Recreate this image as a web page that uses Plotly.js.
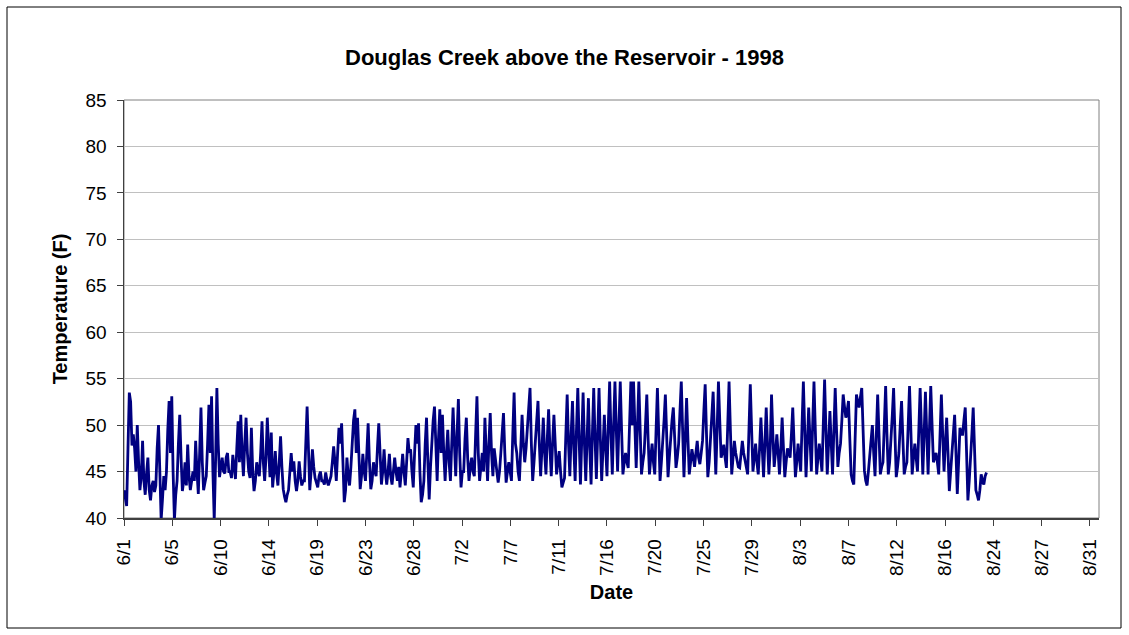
<!DOCTYPE html>
<html><head><meta charset="utf-8">
<script src="https://cdn.plot.ly/plotly-3.0.1.min.js"></script>
<style>html,body{margin:0;padding:0;background:#fff}#chart{width:1129px;height:635px}</style>
</head><body><div id="chart"></div>
<script>
const chartTitle = 'Douglas Creek above the Reservoir - 1998';
const xTitle = 'Date';
const yTitle = 'Temperature (F)';
const startYear = 1998, startMonth = 5, startDay = 1; // 6/1/1998
const sampleHours = 3;
const tickLabels = ['6/1','6/5','6/10','6/14','6/19','6/23','6/28','7/2','7/7','7/11','7/16','7/20','7/25','7/29','8/3','8/7','8/12','8/16','8/24','8/27','8/31'];
const tickStepDays = 4.55;
const axisEndDays = 91.85;
const yRange = [40, 85];
// water temperature (F), one value every 3 hours starting 6/1 00:00 (one line per day)
const temps = [
43.0,42.0,41.3,47.5,53.5,52.5,47.8,49.0,
47.5,45.0,50.0,46.0,43.0,44.5,48.3,44.0,
42.5,44.8,46.5,43.0,41.9,43.5,44.0,42.8,
43.5,47.5,50.0,45.0,39.8,42.0,44.5,43.0,
45.0,49.5,52.6,47.0,53.1,45.0,39.8,42.5,
44.0,48.0,51.1,46.5,42.9,44.0,46.0,43.5,
47.9,44.5,43.0,44.0,45.0,44.0,48.3,45.0,
42.6,47.0,51.9,46.0,43.0,43.8,44.5,48.0,
52.2,47.0,53.1,45.0,39.8,46.0,54.0,48.0,
44.4,45.5,46.5,45.0,44.8,46.5,47.0,45.0,
45.0,44.3,46.8,45.5,44.2,47.5,50.4,46.0,
51.1,47.0,44.5,48.0,50.8,47.0,45.0,44.3,
49.7,45.0,42.9,44.0,46.0,45.0,44.5,47.0,
50.4,46.0,44.0,46.5,50.8,47.5,44.4,49.2,
43.3,45.0,47.2,44.8,43.5,46.0,48.8,45.5,
43.1,42.3,41.7,42.5,43.0,45.0,47.0,45.0,
46.1,44.0,42.9,44.0,46.1,44.5,43.5,44.0,
44.0,48.0,52.0,47.5,43.0,45.0,47.4,45.5,
44.3,43.8,43.3,44.5,45.0,44.0,44.0,43.6,
44.9,44.0,43.5,44.0,44.5,46.0,47.7,46.0,
44.0,47.0,49.7,48.0,50.2,46.0,41.7,43.0,
46.5,44.5,43.5,45.5,48.8,50.5,51.7,47.0,
50.8,46.5,43.1,44.5,46.9,45.0,44.0,47.0,
50.2,46.0,43.1,44.0,46.0,45.0,44.5,47.5,
50.2,47.0,43.6,45.0,47.4,45.0,43.6,45.0,
46.9,44.5,43.6,45.0,46.5,45.0,44.0,45.5,
43.3,45.0,46.9,45.0,43.5,46.0,48.6,47.0,
47.4,45.0,43.3,47.0,50.0,48.0,50.2,45.0,
41.7,42.5,44.0,48.0,50.8,46.0,42.0,45.5,
48.3,50.5,52.0,47.0,44.0,48.5,51.7,47.0,
51.1,47.0,44.0,47.0,49.5,46.0,44.0,48.0,
51.9,48.0,44.5,49.0,52.8,47.0,43.3,45.0,
45.0,48.5,50.8,46.5,44.0,45.5,46.5,45.0,
44.5,49.0,53.1,47.0,44.0,45.5,47.0,45.0,
50.8,47.0,44.0,48.0,51.3,47.0,44.5,47.5,
46.5,45.0,43.8,45.0,47.0,49.5,51.3,47.0,
43.8,45.0,46.0,45.0,44.0,49.0,53.5,48.0,
47.0,45.0,44.0,47.5,51.1,48.0,46.0,47.5,
50.0,52.0,54.0,48.0,44.0,46.0,48.0,50.5,
52.6,48.0,44.5,47.5,50.8,47.0,44.7,48.5,
51.7,47.5,44.5,48.0,51.1,48.0,44.7,46.0,
47.2,45.0,43.3,43.8,44.3,49.0,53.3,48.0,
44.5,49.0,52.6,47.5,44.0,49.5,54.0,48.5,
43.6,48.5,53.5,48.0,44.0,48.5,52.9,47.5,
43.6,49.0,54.0,48.5,44.2,49.0,54.0,48.5,
44.0,47.5,51.1,47.5,44.5,50.0,54.7,49.0,
44.7,50.0,54.7,49.5,45.0,50.0,54.7,49.5,
44.7,46.0,47.0,46.0,45.4,50.0,54.7,50.0,
54.7,50.0,45.4,50.0,54.7,49.5,44.7,46.0,
47.0,50.0,53.3,48.5,44.7,46.5,48.0,46.0,
44.7,49.5,54.0,49.0,44.0,46.0,48.0,50.5,
53.3,48.5,44.4,46.5,49.0,50.5,51.9,48.5,
45.4,46.5,48.0,51.5,54.7,49.5,44.4,48.5,
52.9,48.5,44.7,46.0,47.4,46.5,45.5,47.0,
48.3,46.5,45.8,47.0,48.3,51.5,54.4,49.0,
44.4,46.0,48.0,51.0,53.6,49.0,44.7,49.5,
54.7,50.5,46.5,47.0,47.9,46.5,45.4,50.0,
54.7,49.5,44.7,46.5,48.3,47.0,46.0,45.5,
45.4,47.0,48.3,47.0,46.0,45.5,44.7,49.5,
54.4,49.5,45.0,46.5,48.0,46.0,44.7,47.5,
50.8,47.5,44.4,48.0,51.9,48.0,44.7,47.5,
53.3,49.0,45.5,47.0,49.0,47.0,44.7,47.5,
50.8,47.5,44.4,46.0,47.5,47.0,46.5,49.0,
51.9,48.0,44.4,46.0,48.0,46.5,45.0,50.0,
54.7,49.5,44.4,48.0,51.9,48.5,45.0,50.0,
54.7,49.5,44.7,46.5,48.0,46.5,45.0,50.0,
54.9,49.5,44.7,48.0,51.5,48.0,44.7,49.5,
54.0,49.5,45.5,47.0,48.0,50.5,53.3,52.0,
50.8,51.5,52.6,48.5,44.7,44.0,43.6,48.5,
53.3,52.5,51.9,53.0,54.0,49.5,45.1,44.0,
43.5,45.0,47.0,48.5,50.0,47.0,44.5,49.0,
53.3,49.0,44.7,45.5,46.0,50.0,54.2,49.0,
44.7,46.0,48.0,51.0,54.0,49.0,44.4,45.5,
47.0,50.0,52.6,48.5,44.7,45.5,46.0,50.0,
54.2,49.5,44.7,46.5,48.0,46.5,45.0,49.5,
54.0,49.5,44.7,49.0,53.6,49.0,44.7,49.5,
54.2,50.0,46.0,46.5,47.0,46.0,44.7,49.0,
53.3,49.0,45.0,48.0,50.8,47.0,42.9,45.0,
47.0,49.0,51.1,47.0,42.6,46.0,49.7,49.0,
49.0,50.5,51.9,47.0,41.9,44.0,46.0,49.0,
51.9,47.5,43.0,42.5,41.9,43.0,44.7,44.0,
43.6,44.5,44.9
];

const DAY = 86400000;
const t0 = Date.UTC(startYear, startMonth, startDay);
const xs = temps.map((_, i) => t0 + i * sampleHours * 3600000);
const tickVals = tickLabels.map((_, i) => t0 + i * tickStepDays * DAY);

const font = 'Liberation Sans, Arial, sans-serif';
const trace = {
  x: xs, y: temps, type: 'scatter', mode: 'lines',
  line: {color: '#000080', width: 2.8}, hoverinfo: 'x+y', showlegend: false
};
const layout = {
  width: 1129, height: 635,
  margin: {l: 124, r: 30, t: 100, b: 117},
  paper_bgcolor: '#fff', plot_bgcolor: '#fff',
  font: {family: font, color: '#000', size: 19},
  title: {text: chartTitle, font: {family: font, size: 22, color: '#000', weight: 'bold'},
          x: 0.5, xref: 'container', y: 1 - 57/635, yref: 'container', yanchor: 'middle'},
  xaxis: {
    type: 'date', range: [t0, t0 + axisEndDays * DAY],
    tickmode: 'array', tickvals: tickVals, ticktext: tickLabels, tickangle: -90,
    ticks: 'outside', ticklen: 6, tickcolor: '#404040', tickwidth: 1,
    ticklabelstandoff: 6,
    showline: true, linecolor: '#404040', linewidth: 1.5, showgrid: false, zeroline: false,
    tickfont: {family: font, size: 19, color: '#000'},
    title: {text: xTitle, font: {family: font, size: 20, color: '#000', weight: 'bold'}, standoff: 10},
    automargin: false, fixedrange: true
  },
  yaxis: {
    range: yRange, dtick: 5, tick0: 40,
    ticks: 'outside', ticklen: 6, tickcolor: '#404040', tickwidth: 1,
    ticklabelstandoff: 6,
    showline: true, linecolor: '#404040', linewidth: 1.5,
    showgrid: true, gridcolor: '#c0c0c0', gridwidth: 1, zeroline: false,
    tickfont: {family: font, size: 19, color: '#000'},
    title: {text: yTitle, font: {family: font, size: 20, color: '#000', weight: 'bold'}, standoff: 12},
    automargin: false, fixedrange: true
  },
  shapes: [
    {type: 'rect', xref: 'paper', yref: 'paper', x0: 0, x1: 1, y0: 0, y1: 1,
     line: {color: '#808080', width: 1}, layer: 'below'},
    {type: 'rect', xref: 'paper', yref: 'paper',
     x0: (7 - 124) / 975, x1: (1121 - 124) / 975, y0: (518 - 628) / 418, y1: (518 - 7) / 418,
     line: {color: '#000', width: 1}, layer: 'below'}
  ]
};
Plotly.newPlot('chart', [trace], layout, {staticPlot: true, displayModeBar: false});
</script>
</body></html>
